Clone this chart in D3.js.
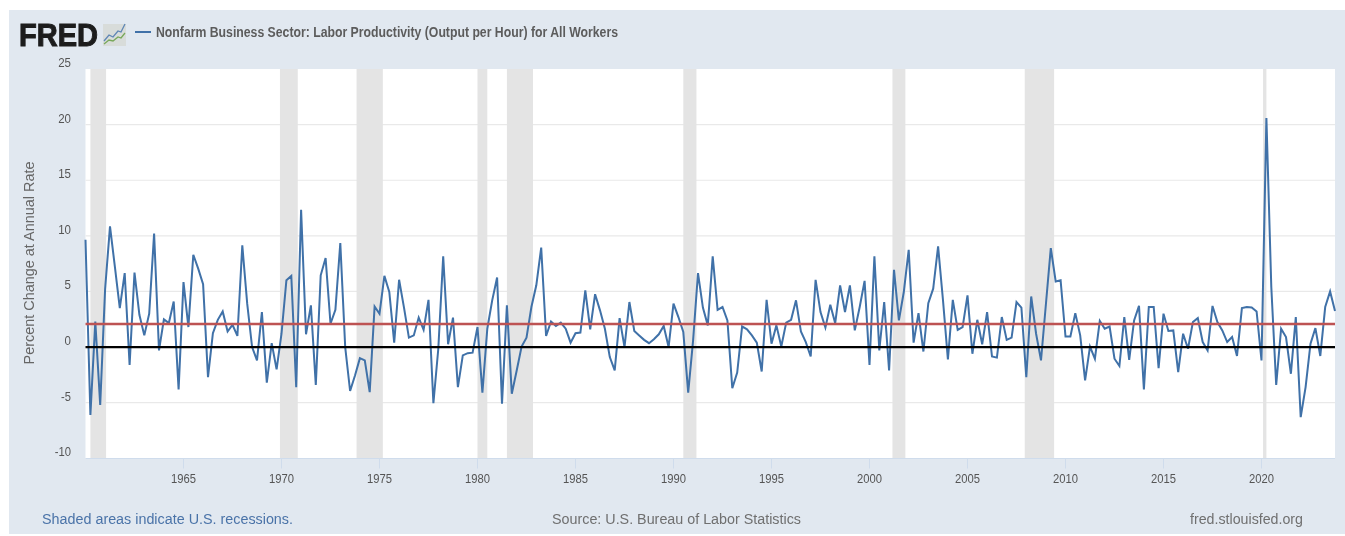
<!DOCTYPE html>
<html><head><meta charset="utf-8">
<script src="https://cdn.jsdelivr.net/npm/d3@7/dist/d3.min.js"></script>
<style>html,body{margin:0;padding:0;background:#fff;overflow:hidden}svg{display:block}text{font-family:"Liberation Sans",Arial,sans-serif}</style>
</head><body><svg id="c" width="1345" height="536"></svg>
<script>
const seriesName = "Nonfarm Business Sector: Labor Productivity (Output per Hour) for All Workers";
const startYear = 1960;
const productivity = [
9.65,-6.1,2.3,-5.2,5.2,10.85,7.2,3.5,6.65,-1.6,6.7,2.9,1.05,3.0,10.2,-0.3,
2.5,2.15,4.1,-3.8,5.85,1.8,8.3,7.05,5.65,-2.7,1.25,2.45,3.2,1.4,2.0,1.0,
9.15,3.9,0.0,-1.2,3.15,-3.2,0.35,-2.0,1.2,6.0,6.4,-3.6,12.35,1.15,3.75,-3.4,
6.45,8.0,2.1,3.35,9.35,0.0,-3.95,-2.55,-1.0,-1.2,-4.05,3.65,3.0,6.4,4.95,0.4,
6.05,3.55,0.85,1.05,2.65,1.55,4.25,-5.05,-0.15,8.15,0.25,2.65,-3.6,-0.75,-0.55,-0.5,
1.8,-4.1,1.65,4.2,6.25,-5.1,3.75,-4.2,-2.1,0.05,0.85,3.6,5.55,8.95,1.0,2.3,
1.9,2.2,1.65,0.4,1.25,1.3,5.1,1.6,4.75,3.3,1.65,-0.9,-2.1,2.6,0.0,4.05,
1.45,1.05,0.65,0.35,0.7,1.15,1.9,0.0,3.9,2.7,1.35,-4.1,0.6,6.65,3.55,1.95,
8.15,3.35,3.6,2.4,-3.7,-2.3,1.85,1.6,1.05,0.4,-2.2,4.25,0.3,1.95,0.05,2.2,
2.45,4.2,1.4,0.45,-0.85,6.05,3.15,1.75,3.8,2.15,5.55,3.15,5.55,1.5,3.6,5.95,
-1.6,8.15,-0.3,4.05,-2.1,6.95,2.4,4.95,8.75,0.4,3.05,-0.4,3.95,5.25,9.05,4.2,
-1.1,4.25,1.55,1.8,4.65,-0.6,2.45,0.25,3.15,-0.85,-0.95,2.7,0.65,0.85,4.05,3.55,
-2.7,4.55,1.2,-1.2,3.85,8.9,5.9,6.0,0.95,0.95,3.05,1.05,-3.0,0.05,-1.05,2.35,
1.65,1.85,-1.05,-1.7,2.7,-1.15,2.4,3.7,-3.8,3.6,3.6,-1.9,3.0,1.45,1.5,-2.25,
1.2,-0.15,2.25,2.6,0.45,-0.3,3.7,2.25,1.5,0.45,0.9,-0.8,3.5,3.6,3.55,3.2,
-1.2,20.6,5.4,-3.4,1.65,0.9,-2.4,2.7,-6.3,-3.6,0.3,1.7,-0.8,3.6,5.0,3.25];
const meanLevel = [2.07];
const zeroLevel = [0];
const recessionStart = [1960.25,1969.92,1973.83,1980.0,1981.5,1990.5,2001.17,2007.92,2020.08];
const recessionEnd   = [1961.05,1970.83,1975.17,1980.5,1982.83,1991.17,2001.83,2009.42,2020.25];
const yTicks = [-10,-5,0,5,10,15,20,25];
const xTicks = [1965,1970,1975,1980,1985,1990,1995,2000,2005,2010,2015,2020];

const svg = d3.select("#c");
const L=85.5,R=1335,T=69,B=458.5;
const x = d3.scaleLinear().domain([1960,2023.75]).range([L,R]);
const y = d3.scaleLinear().domain([-10,25]).range([458.3,69]);
const defs = svg.append("defs");
defs.append("filter").attr("id","soft").append("feGaussianBlur").attr("stdDeviation",0.5);
defs.append("filter").attr("id","softT").append("feGaussianBlur").attr("stdDeviation",0.35);

svg.append("rect").attr("x",9).attr("y",10).attr("width",1336).attr("height",524).attr("fill","#e1e8f0");
const g = svg.append("g").attr("filter","url(#soft)");
g.append("rect").attr("x",L).attr("y",T).attr("width",R-L).attr("height",B-T).attr("fill","#fff");
g.selectAll(".grid").data(yTicks.filter(d=>d>-10&&d<25)).join("line")
 .attr("x1",L).attr("x2",R).attr("y1",d=>y(d)).attr("y2",d=>y(d)).attr("stroke","#e9e9e9").attr("stroke-width",1.2);
g.selectAll(".rec").data(recessionStart).join("rect")
 .attr("x",d=>x(d)).attr("y",T).attr("width",(d,i)=>x(recessionEnd[i])-x(d)).attr("height",B-T).attr("fill","#e4e4e4");
g.append("line").attr("x1",L).attr("x2",R).attr("y1",B).attr("y2",B).attr("stroke","#cfdcec").attr("stroke-width",1.2);
g.selectAll(".tk").data(xTicks).join("line")
 .attr("x1",d=>x(d)).attr("x2",d=>x(d)).attr("y1",B).attr("y2",B+10).attr("stroke","#cfdcec");

const line = d3.line().x((d,i)=>x(startYear+i/4)).y(d=>y(d));
g.append("path").datum(productivity).attr("d",line).attr("fill","none").attr("stroke","#3f71a8").attr("stroke-width",2).attr("stroke-linejoin","miter");
g.selectAll(".mean").data(meanLevel).join("line").attr("x1",L).attr("x2",R).attr("y1",d=>y(d)).attr("y2",d=>y(d)).attr("stroke","#bd5252").attr("stroke-width",2.6);
g.selectAll(".zero").data(zeroLevel).join("line").attr("x1",L).attr("x2",R).attr("y1",d=>y(d)).attr("y2",d=>y(d)).attr("stroke","#000").attr("stroke-width",2.2);

const t = svg.append("g").attr("filter","url(#softT)");
t.selectAll(".yl").data(yTicks).join("text").attr("x",71).attr("y",d=>y(d)-2).attr("text-anchor","end")
 .attr("font-size",13).attr("fill","#555").attr("textLength",d=>Math.abs(d).toString().length*6.4+(d<0?3.5:0)).attr("lengthAdjust","spacingAndGlyphs").text(d=>d);
t.selectAll(".xl").data(xTicks).join("text").attr("x",d=>x(d)).attr("y",483).attr("text-anchor","middle")
 .attr("font-size",13).attr("fill","#555").attr("textLength",25).attr("lengthAdjust","spacingAndGlyphs").text(d=>d);
t.append("text").attr("transform","translate(34,263) rotate(-90)").attr("text-anchor","middle").attr("font-size",14).attr("fill","#666")
 .attr("textLength",203).attr("lengthAdjust","spacingAndGlyphs").text("Percent Change at Annual Rate");
t.append("text").attr("x",42).attr("y",524).attr("font-size",15.5).attr("fill","#4a73a8").attr("textLength",251).attr("lengthAdjust","spacingAndGlyphs").text("Shaded areas indicate U.S. recessions.");
t.append("text").attr("x",552).attr("y",524).attr("font-size",15.5).attr("fill","#6f6f6f").attr("textLength",249).attr("lengthAdjust","spacingAndGlyphs").text("Source: U.S. Bureau of Labor Statistics");
t.append("text").attr("x",1190).attr("y",524).attr("font-size",15.5).attr("fill","#6f6f6f").attr("textLength",113).attr("lengthAdjust","spacingAndGlyphs").text("fred.stlouisfed.org");

// legend
g.append("line").attr("x1",135).attr("x2",151).attr("y1",32).attr("y2",32).attr("stroke","#3f71a8").attr("stroke-width",2);
t.append("text").attr("x",156).attr("y",37).attr("font-size",14).attr("font-weight",700).attr("fill","#5c5c5c").attr("textLength",462).attr("lengthAdjust","spacingAndGlyphs").text(seriesName);

// logo
t.append("text").attr("x",19).attr("y",45.5).attr("font-size",31).attr("font-weight",700).attr("fill","#1d1d1d").attr("stroke","#1d1d1d").attr("stroke-width",1).attr("textLength",79).attr("lengthAdjust","spacingAndGlyphs").text("FRED");
const logo = g.append("g").attr("transform","translate(103,22)");
logo.append("path").attr("d","M0,2H23V24H0Z").attr("fill","#d8dcda");
logo.append("path").attr("d","M1,19L6,13L10,15L15,9L18,10L22,2").attr("fill","none").attr("stroke","#5f86b5").attr("stroke-width",1.3);
logo.append("path").attr("d","M1,22L6,18L10,19L15,15L18,16L22,11").attr("fill","none").attr("stroke","#78a85a").attr("stroke-width",1.3);
</script></body></html>
